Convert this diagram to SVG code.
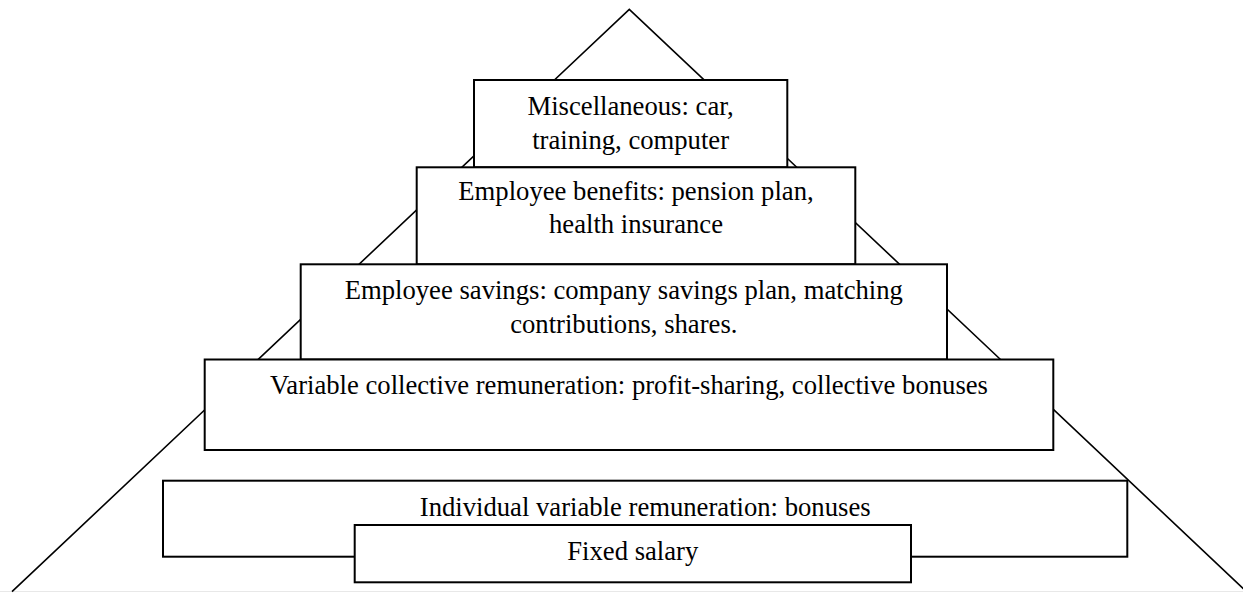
<svg xmlns="http://www.w3.org/2000/svg" width="1243" height="593" viewBox="0 0 1243 593">
  <style>
    .box { fill: #ffffff; stroke: #000000; stroke-width: 2; }
    .edge { fill: none; stroke: #000000; stroke-width: 1.6; }
    .label { font-family: "Liberation Serif", "Times New Roman", serif; font-size: 26.67px; fill: #000000; text-anchor: middle; }
  </style>
  <rect x="0" y="0" width="1243" height="593" fill="#ffffff"/>
  <!-- page edge -->
  <line x1="0" y1="591.5" x2="1243" y2="591.5" stroke="#e8e8e8" stroke-width="1"/>

  <!-- pyramid outline behind the tiers -->
  <g id="connectors">
    <polyline class="edge" points="12,591.7 629.3,9.3 1246.6,591.7"/>
  </g>

  <g id="misc">
    <rect class="box" x="474" y="80" width="313.3" height="87.3"/>
    <text class="label" x="630.6" y="115">Miscellaneous: car,</text>
    <text class="label" x="630.6" y="148.5">training, computer</text>
  </g>

  <g id="benefits">
    <rect class="box" x="416.7" y="167.3" width="438.6" height="97"/>
    <text class="label" x="636" y="199.5">Employee benefits: pension plan,</text>
    <text class="label" x="636" y="233">health insurance</text>
  </g>

  <g id="savings">
    <rect class="box" x="300.7" y="264.3" width="646.3" height="95.2"/>
    <text class="label" x="623.8" y="298.5">Employee savings: company savings plan, matching</text>
    <text class="label" x="623.8" y="332.7">contributions, shares.</text>
  </g>

  <g id="collective">
    <rect class="box" x="204.7" y="359.5" width="848.6" height="90.5"/>
    <text class="label" x="629" y="394">Variable collective remuneration: profit-sharing, collective bonuses</text>
  </g>

  <g id="individual">
    <rect class="box" x="163" y="480.7" width="964.3" height="76"/>
    <text class="label" x="645.2" y="516">Individual variable remuneration: bonuses</text>
  </g>

  <g id="fixed">
    <rect class="box" x="354.7" y="525" width="556.3" height="57.3"/>
    <text class="label" x="632.8" y="559.5">Fixed salary</text>
  </g>
</svg>
